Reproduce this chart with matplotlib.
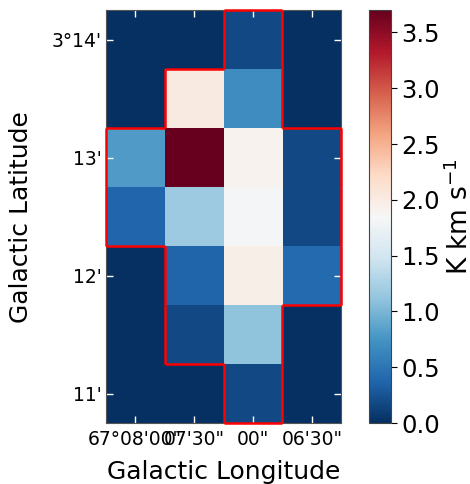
import matplotlib
matplotlib.use('Agg')
import matplotlib.pyplot as plt
import numpy as np
from matplotlib.collections import LineCollection

# integrated intensity map, rows listed top (high latitude) to bottom
row_14_0 = [0.0, 0.0, 0.18, 0.0]
row_13_5 = [0.0, 2.02, 0.70, 0.0]
row_13_0 = [0.80, 3.70, 1.92, 0.18]
row_12_5 = [0.38, 1.18, 1.82, 0.18]
row_12_0 = [0.0, 0.37, 1.96, 0.41]
row_11_5 = [0.0, 0.18, 1.10, 0.0]
row_11_0 = [0.0, 0.0, 0.18, 0.0]

lon_labels = ['67°08\'00"', '07\'30"', '00"', '06\'30"']
lat_labels = ["11'", "12'", "13'", "3°14'"]

mom0 = np.array([row_14_0, row_13_5, row_13_0, row_12_5, row_12_0, row_11_5, row_11_0])
ny, nx = mom0.shape

fig = plt.figure(figsize=(4.7, 4.84), dpi=100)
ax = fig.add_axes([0.2234, 0.126, 0.5043, 0.853])
cax = fig.add_axes([0.785, 0.126, 0.047, 0.853])

im = ax.imshow(mom0, cmap='RdBu_r', vmin=0, vmax=mom0.max(), origin='upper',
               extent=(-0.5, nx - 0.5, -0.5, ny - 0.5), interpolation='nearest',
               aspect='equal')

# outline of the emission region along pixel edges
mask = mom0 > 0
segs = []
for r in range(ny):
    for c in range(nx):
        if not mask[r, c]:
            continue
        yc = ny - 1 - r
        if r == 0 or not mask[r - 1, c]:
            segs.append([(c - 0.5, yc + 0.5), (c + 0.5, yc + 0.5)])
        if r == ny - 1 or not mask[r + 1, c]:
            segs.append([(c - 0.5, yc - 0.5), (c + 0.5, yc - 0.5)])
        if c == 0 or not mask[r, c - 1]:
            segs.append([(c - 0.5, yc - 0.5), (c - 0.5, yc + 0.5)])
        if c == nx - 1 or not mask[r, c + 1]:
            segs.append([(c + 0.5, yc - 0.5), (c + 0.5, yc + 0.5)])
ax.add_collection(LineCollection(segs, colors='red', linewidths=1.8, clip_on=False, zorder=3))

ax.set_xticks(range(nx))
ax.set_xticklabels(lon_labels)
ax.set_yticks([0, 2, 4, 6])
ax.set_yticklabels(lat_labels)
ax.tick_params(direction='in', color='white', length=5, width=1, labelsize=13.5,
               top=True, right=True)
ax.tick_params(axis='y', pad=3)
ax.tick_params(axis='x', pad=5)
for s in ax.spines.values():
    s.set_color('#555555')
    s.set_linewidth(0.8)
ax.set_xlabel('Galactic Longitude', fontsize=18, labelpad=8)
ax.set_ylabel('Galactic Latitude', fontsize=18, labelpad=13)

cb = fig.colorbar(im, cax=cax)
cb.set_ticks(np.arange(0, 3.6, 0.5))
cb.ax.tick_params(labelsize=17.5, length=4)
cb.outline.set_edgecolor('#444444')
cb.set_label('K km s$^{-1}$', fontsize=19)

fig.savefig('out.png', dpi=100)
